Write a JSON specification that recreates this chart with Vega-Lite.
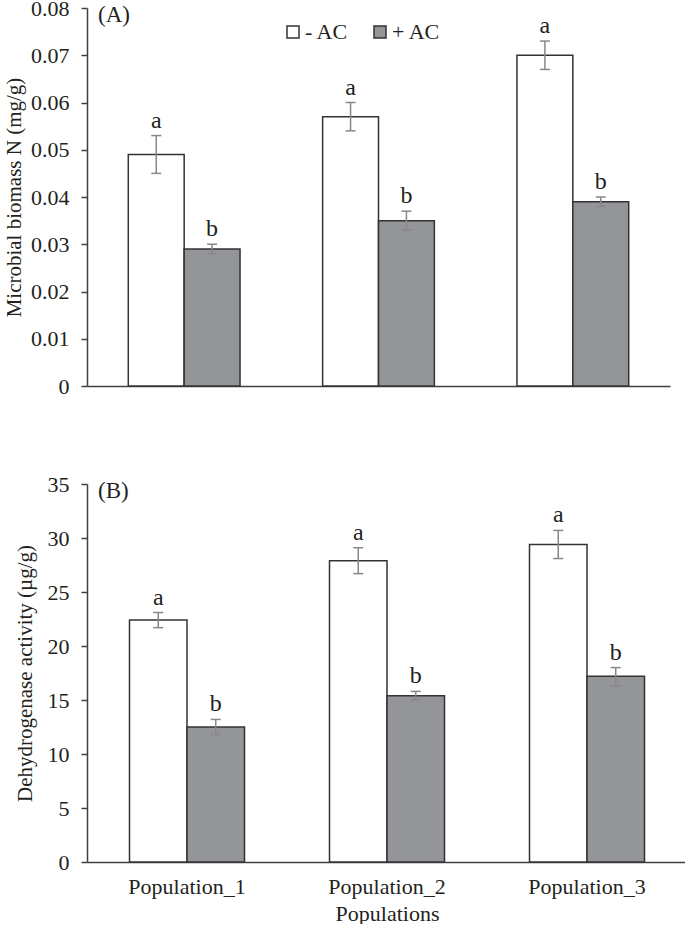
{
  "$schema": "https://vega.github.io/schema/vega-lite/v6.json",
  "background": "white",
  "padding": {"left": 3, "top": -3, "right": 0, "bottom": 0},
  "config": {
    "font": "Times New Roman, Liberation Serif, Times, serif",
    "view": {"stroke": null},
    "axis": {
      "labelFont": "Times New Roman, Liberation Serif, Times, serif",
      "titleFont": "Times New Roman, Liberation Serif, Times, serif",
      "labelFontSize": 22,
      "titleFontSize": 21,
      "titleFontWeight": "normal",
      "labelColor": "#231f20",
      "titleColor": "#231f20",
      "domainColor": "#404040",
      "tickColor": "#404040",
      "domainWidth": 1.5,
      "tickWidth": 1.5,
      "grid": false
    },
    "legend": {"labelFont": "Times New Roman, Liberation Serif, Times, serif"},
    "title": {"font": "Times New Roman, Liberation Serif, Times, serif", "fontSize": 23, "fontWeight": "normal", "color": "#231f20"}
  },
  "datasets": {
    "d": [
      {"panel": "A", "population": "Population_1", "treatment": "- AC", "value": 0.049, "lo": 0.045, "hi": 0.053, "letter": "a"},
      {"panel": "A", "population": "Population_1", "treatment": "+ AC", "value": 0.029, "lo": 0.028, "hi": 0.030, "letter": "b"},
      {"panel": "A", "population": "Population_2", "treatment": "- AC", "value": 0.057, "lo": 0.054, "hi": 0.060, "letter": "a"},
      {"panel": "A", "population": "Population_2", "treatment": "+ AC", "value": 0.035, "lo": 0.033, "hi": 0.037, "letter": "b"},
      {"panel": "A", "population": "Population_3", "treatment": "- AC", "value": 0.070, "lo": 0.067, "hi": 0.073, "letter": "a"},
      {"panel": "A", "population": "Population_3", "treatment": "+ AC", "value": 0.039, "lo": 0.038, "hi": 0.040, "letter": "b"},
      {"panel": "B", "population": "Population_1", "treatment": "- AC", "value": 22.4, "lo": 21.7, "hi": 23.1, "letter": "a"},
      {"panel": "B", "population": "Population_1", "treatment": "+ AC", "value": 12.5, "lo": 11.8, "hi": 13.2, "letter": "b"},
      {"panel": "B", "population": "Population_2", "treatment": "- AC", "value": 27.9, "lo": 26.7, "hi": 29.1, "letter": "a"},
      {"panel": "B", "population": "Population_2", "treatment": "+ AC", "value": 15.4, "lo": 15.0, "hi": 15.8, "letter": "b"},
      {"panel": "B", "population": "Population_3", "treatment": "- AC", "value": 29.4, "lo": 28.1, "hi": 30.7, "letter": "a"},
      {"panel": "B", "population": "Population_3", "treatment": "+ AC", "value": 17.2, "lo": 16.3, "hi": 18.0, "letter": "b"}
    ]
  },
  "spacing": 98,
  "bounds": "flush",
  "resolve": {
    "scale": {"x": "independent", "xOffset": "independent", "y": "independent", "color": "independent"},
    "legend": {"color": "independent"}
  },
  "vconcat": [
    {
      "width": 583,
      "height": 378,
      "data": {"name": "d"},
      "transform": [{"filter": "datum.panel == 'A'"}],
      "title": {"text": "(A)", "anchor": "start", "frame": "group", "orient": "top", "baseline": "top", "offset": -30, "dx": 11},
      "encoding": {
        "x": {"field": "population", "type": "nominal", "sort": ["Population_1", "Population_2", "Population_3"],
              "scale": {"paddingInner": 0.425, "paddingOuter": 0.2125},
              "axis": {"title": null, "labels": false, "ticks": false}},
        "xOffset": {"field": "treatment", "type": "nominal", "sort": ["- AC", "+ AC"], "scale": {"paddingInner": 0, "paddingOuter": 0}}
      },
      "layer": [
        {
          "mark": {"type": "bar", "stroke": "#333333", "strokeWidth": 1.5},
          "encoding": {
            "y": {"field": "value", "type": "quantitative", "scale": {"domain": [0, 0.08]},
                  "axis": {"title": "Microbial biomass N (mg/g)", "values": [0, 0.01, 0.02, 0.03, 0.04, 0.05, 0.06, 0.07, 0.08], "format": ".2~f", "tickSize": 6, "labelPadding": 12, "titlePadding": 6}},
            "color": {"field": "treatment", "type": "nominal",
                      "scale": {"domain": ["- AC", "+ AC"], "range": ["#ffffff", "#939598"]},
                      "legend": {"orient": "none", "legendX": 195, "legendY": 13, "direction": "horizontal", "title": null,
                                 "symbolType": "square", "symbolSize": 144, "symbolStrokeWidth": 1.5, "symbolStrokeColor": "#333333",
                                 "labelFontSize": 22, "labelColor": "#231f20", "labelOffset": 1, "columnPadding": 20, "padding": 0}}
          }
        },
        {
          "mark": {"type": "rule", "color": "#888888", "strokeWidth": 1.5},
          "encoding": {"y": {"field": "lo", "type": "quantitative"}, "y2": {"field": "hi"}}
        },
        {
          "mark": {"type": "tick", "color": "#888888", "size": 10, "thickness": 1.5, "opacity": 1},
          "encoding": {"y": {"field": "lo", "type": "quantitative"}}
        },
        {
          "mark": {"type": "tick", "color": "#888888", "size": 10, "thickness": 1.5, "opacity": 1},
          "encoding": {"y": {"field": "hi", "type": "quantitative"}}
        },
        {
          "mark": {"type": "text", "fontSize": 24, "baseline": "alphabetic", "dy": -8, "color": "#231f20"},
          "encoding": {"y": {"field": "hi", "type": "quantitative"}, "text": {"field": "letter"}}
        }
      ]
    },
    {
      "width": 600,
      "height": 378,
      "data": {"name": "d"},
      "transform": [{"filter": "datum.panel == 'B'"}],
      "title": {"text": "(B)", "anchor": "start", "frame": "group", "orient": "top", "baseline": "top", "offset": -30, "dx": 11},
      "encoding": {
        "x": {"field": "population", "type": "nominal", "sort": ["Population_1", "Population_2", "Population_3"],
              "scale": {"paddingInner": 0.425, "paddingOuter": 0.2125},
              "axis": {"title": "Populations", "labelAngle": 0, "ticks": false, "tickSize": 0, "labelPadding": 14, "titlePadding": 6, "titleFontSize": 22}},
        "xOffset": {"field": "treatment", "type": "nominal", "sort": ["- AC", "+ AC"], "scale": {"paddingInner": 0, "paddingOuter": 0}}
      },
      "layer": [
        {
          "mark": {"type": "bar", "stroke": "#333333", "strokeWidth": 1.5},
          "encoding": {
            "y": {"field": "value", "type": "quantitative", "scale": {"domain": [0, 35]},
                  "axis": {"title": "Dehydrogenase activity (µg/g)", "values": [0, 5, 10, 15, 20, 25, 30, 35], "tickSize": 6, "labelPadding": 12, "titlePadding": 12}},
            "color": {"field": "treatment", "type": "nominal",
                      "scale": {"domain": ["- AC", "+ AC"], "range": ["#ffffff", "#939598"]},
                      "legend": null}
          }
        },
        {
          "mark": {"type": "rule", "color": "#888888", "strokeWidth": 1.5},
          "encoding": {"y": {"field": "lo", "type": "quantitative"}, "y2": {"field": "hi"}}
        },
        {
          "mark": {"type": "tick", "color": "#888888", "size": 10, "thickness": 1.5, "opacity": 1},
          "encoding": {"y": {"field": "lo", "type": "quantitative"}}
        },
        {
          "mark": {"type": "tick", "color": "#888888", "size": 10, "thickness": 1.5, "opacity": 1},
          "encoding": {"y": {"field": "hi", "type": "quantitative"}}
        },
        {
          "mark": {"type": "text", "fontSize": 24, "baseline": "alphabetic", "dy": -8, "color": "#231f20"},
          "encoding": {"y": {"field": "hi", "type": "quantitative"}, "text": {"field": "letter"}}
        }
      ]
    }
  ]
}
